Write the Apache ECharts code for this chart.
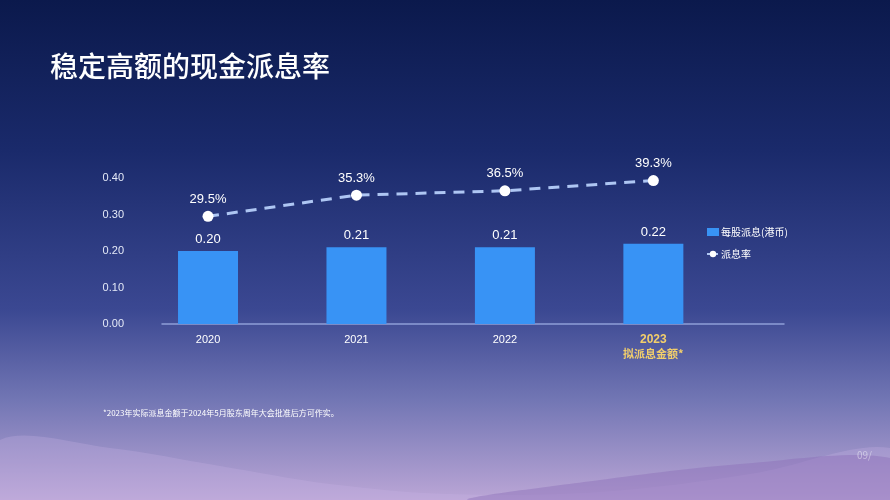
<!DOCTYPE html>
<html><head><meta charset="utf-8">
<script src="https://cdn.jsdelivr.net/npm/echarts@6/dist/echarts.min.js"></script>
<style>html,body{margin:0;padding:0;background:#1a2a6c}#c{width:890px;height:500px}</style>
</head><body><div id="c"></div>
<script>
const categories = ['2020', '2021', '2022', '2023'];
const dividendPerShare = [0.20, 0.21, 0.21, 0.22];
const payoutRatio = [29.5, 35.3, 36.5, 39.3];
const titleText = '稳定高额的现金派息率';
const footnote = '*2023年实际派息金额于2024年5月股东周年大会批准后方可作实。';
const lastNote = '拟派息金额*';

const font = '"Noto Sans CJK SC", "Noto Sans", sans-serif';
const numFont = '"Liberation Sans", "Noto Sans CJK SC", sans-serif';
const chart = echarts.init(document.getElementById('c'));
const idx = categories.map((_, i) => i);

chart.setOption({
  backgroundColor: new echarts.graphic.LinearGradient(0, 0, 0, 1, [
    {offset: 0, color: '#0b194c'},
    {offset: 0.3, color: '#1a2a6b'},
    {offset: 0.62, color: '#3b4892'},
    {offset: 0.8, color: '#7276b4'},
    {offset: 1, color: '#bba6d6'}
  ]),
  textStyle: {fontFamily: numFont},
  title: {text: titleText, left: 45, top: 47,
    textStyle: {color: '#ffffff', fontSize: 28, fontWeight: 500, fontFamily: font}},
  graphic: [
    {type: 'polygon', silent: true, z: -1,
      shape: {points: [[0,440],[110,448],[220,466],[330,484],[450,494],[600,492],[750,474],[890,448],[890,500],[0,500]], smooth: 0.35},
      style: {fill: 'rgba(200,180,230,0.28)'}},
    {type: 'polygon', silent: true, z: -1,
      shape: {points: [[470,500],[600,480],[740,464],[890,458],[890,500]], smooth: 0.3},
      style: {fill: 'rgba(140,110,185,0.45)'}},
    {type: 'text', left: 103, top: 409, silent: true,
      style: {text: footnote, fill: '#ffffff', fontSize: 8, fontFamily: font}},
    {type: 'text', left: 857, top: 450, silent: true,
      style: {text: '09/', fill: 'rgba(255,255,255,0.45)', fontSize: 10, fontFamily: font}}
  ],
  legend: {
    orient: 'vertical', left: 701, top: 222, itemGap: 12, itemWidth: 12, itemHeight: 8,
    textStyle: {color: '#ffffff', fontSize: 10, fontFamily: font, padding: [0, 0, 0, -3]},
    data: [
      {name: '每股派息(港币)', icon: 'rect'},
      {name: '派息率'}
    ]
  },
  grid: {left: 162, right: 106, top: 178, bottom: 176},
  xAxis: {
    type: 'value', min: -0.31, max: 3.88,
    splitLine: {show: false},
    axisLine: {show: true, lineStyle: {color: '#8f9fd8', width: 1.5}},
    axisTick: {show: false},
    axisLabel: {
      customValues: idx, margin: 9, color: '#ffffff', fontSize: 11, lineHeight: 14,
      formatter: v => {
        const i = Math.round(v);
        if (i === categories.length - 1) return '{y|' + categories[i] + '}\n{n|' + lastNote + '}';
        return categories[i] || '';
      },
      rich: {
        y: {color: '#f3cf6b', fontSize: 12, fontWeight: 'bold', lineHeight: 14, fontFamily: numFont},
        n: {color: '#f3cf6b', fontSize: 11, fontWeight: 'bold', lineHeight: 14, fontFamily: font}
      }
    }
  },
  yAxis: {
    type: 'value', min: 0, max: 0.4, interval: 0.1,
    splitLine: {show: false}, axisLine: {show: false}, axisTick: {show: false},
    axisLabel: {margin: 38, color: '#e4e9f7', fontSize: 11, formatter: v => v.toFixed(2)}
  },
  series: [
    {
      name: '每股派息(港币)', type: 'bar', barWidth: 60,
      itemStyle: {color: '#3893f5'},
      data: dividendPerShare.map((v, i) => [i, v]),
      label: {show: true, position: 'top', distance: 5, color: '#ffffff', fontSize: 13,
        formatter: p => p.value[1].toFixed(2)}
    },
    {
      name: '派息率', type: 'line', symbol: 'circle', symbolSize: 11,
      itemStyle: {color: '#ffffff'},
      lineStyle: {color: '#aec6f3', width: 3, type: [11, 8]},
      data: payoutRatio.map((v, i) => [i, v / 100]),
      label: {show: true, position: 'top', distance: 5, color: '#ffffff', fontSize: 13,
        formatter: p => payoutRatio[p.dataIndex].toFixed(1) + '%'},
      z: 5
    }
  ]
});
</script></body></html>
